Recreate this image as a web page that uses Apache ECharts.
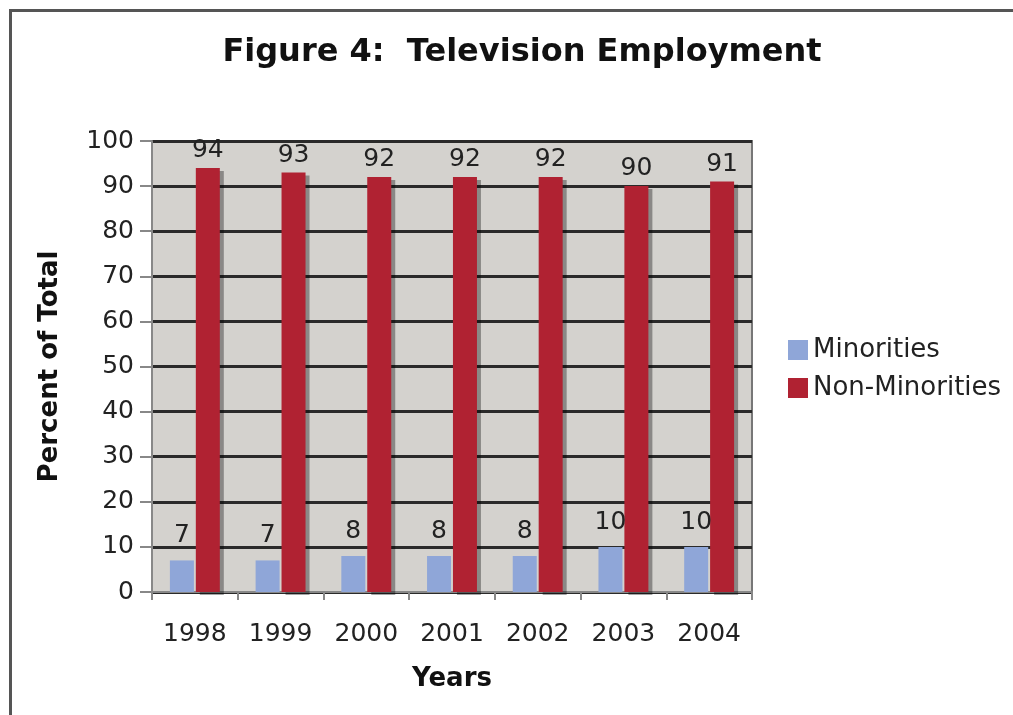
<!DOCTYPE html>
<html lang="en">
<head>
    <meta charset="UTF-8">
    <title>Television Employment</title>
    <script src="https://cdn.jsdelivr.net/npm/echarts@6/dist/echarts.min.js"></script>
    <style>
        body { margin: 0; background: #fff; }
        #frame { position: absolute; left: 9px; top: 9px; width: 1010px; height: 710px;
                 border-left: 3px solid #555; border-top: 3px solid #555; }
        #main { position: absolute; left: 0; top: 0; width: 1013px; height: 715px; }
    </style>
</head>
<body>
<div id="frame"></div>
<div id="main"></div>
<script>
    var years = ['1998', '1999', '2000', '2001', '2002', '2003', '2004'];
    var minorities = [7, 7, 8, 8, 8, 10, 10];
    var nonMinorities = [94, 93, 92, 92, 92, 90, 91];
    var yTicks = [0, 10, 20, 30, 40, 50, 60, 70, 80, 90, 100];

    var font = 'DejaVu Sans, Verdana, sans-serif';
    var myChart = echarts.init(document.getElementById('main'));
    var option = {
        title: {
            text: 'Figure 4:  Television Employment',
            left: 517,
            textAlign: 'center',
            top: 32,
            textStyle: { fontFamily: font, fontSize: 32, fontWeight: 'bold', color: '#111' }
        },
        legend: {
            orient: 'vertical',
            left: 783,
            top: 332,
            icon: 'rect',
            itemWidth: 20,
            itemHeight: 20,
            itemGap: 12,
            data: ['Minorities', 'Non-Minorities'],
            textStyle: { fontFamily: font, fontSize: 26, color: '#222' }
        },
        grid: {
            left: 152,
            right: 261,
            top: 141,
            bottom: 123,
            show: true,
            backgroundColor: '#d4d2ce',
            borderColor: '#777',
            borderWidth: 2
        },
        xAxis: {
            type: 'category',
            data: years,
            name: 'Years',
            nameLocation: 'middle',
            nameGap: 74,
            nameTextStyle: { fontFamily: font, fontSize: 26, fontWeight: 'bold', color: '#111' },
            axisLine: { lineStyle: { color: '#888', width: 2 } },
            axisTick: { show: true, length: 8, lineStyle: { color: '#888', width: 2 } },
            axisLabel: { fontFamily: font, fontSize: 25, color: '#222', margin: 30 }
        },
        yAxis: {
            type: 'value',
            min: yTicks[0],
            max: yTicks[yTicks.length - 1],
            interval: 10,
            name: 'Percent of Total',
            nameLocation: 'middle',
            nameGap: 89,
            nameTextStyle: { fontFamily: font, fontSize: 26, fontWeight: 'bold', color: '#111' },
            axisLine: { show: true, lineStyle: { color: '#888', width: 2 } },
            axisTick: { show: true, length: 12, lineStyle: { color: '#888', width: 2 } },
            axisLabel: { fontFamily: font, fontSize: 25, color: '#222', margin: 18 },
            splitLine: { lineStyle: { color: '#2a2a2a', width: 3 } }
        },
        series: [
            {
                name: 'Minorities',
                type: 'bar',
                data: minorities,
                barWidth: 24,
                barGap: '8%',
                itemStyle: { color: '#8fa6d8' },
                label: { show: true, position: 'top', distance: 12, fontFamily: font, fontSize: 25, color: '#222' }
            },
            {
                name: 'Non-Minorities',
                type: 'bar',
                data: nonMinorities,
                barWidth: 24,
                itemStyle: { color: '#b02232', shadowColor: 'rgba(0,0,0,0.35)', shadowOffsetX: 4, shadowOffsetY: 3 },
                label: { show: true, position: 'top', distance: 5, fontFamily: font, fontSize: 25, color: '#222' }
            }
        ]
    };
    myChart.setOption(option);
</script>
</body>
</html>
